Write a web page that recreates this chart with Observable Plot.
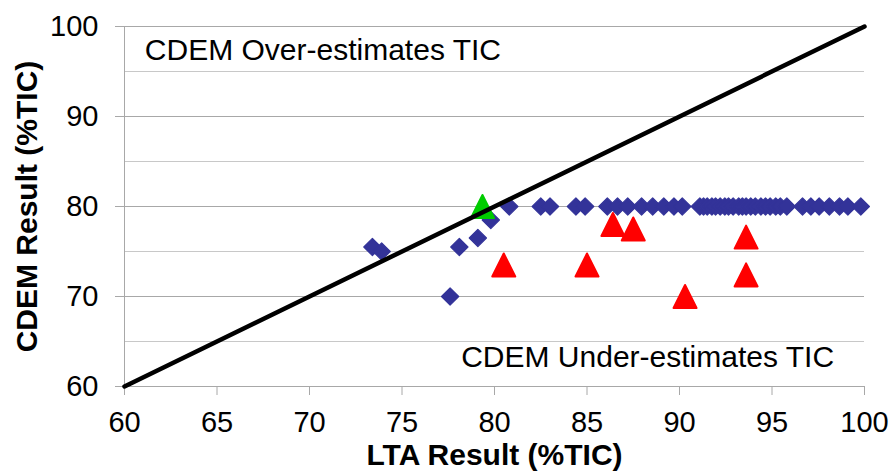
<!DOCTYPE html>
<html>
<head>
<meta charset="utf-8">
<script src="https://cdn.jsdelivr.net/npm/d3@7"></script>
<script src="https://cdn.jsdelivr.net/npm/@observablehq/plot@0.6"></script>
<style>
  html, body { margin: 0; padding: 0; background: #fff; }
  #chart svg { display: block; font-family: "Liberation Sans", Arial, sans-serif; }
</style>
</head>
<body>
<div id="chart"></div>
<script>
// Blue diamonds (all samples)
const blueLTA  = [73.4, 73.9, 77.6, 78.1, 79.1, 79.8, 80.8,
  82.5, 83.0, 84.4, 84.9,
  86.1, 86.65, 87.2,
  87.95, 88.55, 89.15, 89.7, 90.15,
  91.1, 91.3, 91.5, 91.75, 91.95, 92.2, 92.45, 92.65, 92.9, 93.2,
  93.4, 93.6, 93.85, 94.1, 94.4, 94.65, 94.9, 95.2, 95.45, 95.8,
  96.65, 97.1, 97.55, 98.1, 98.65, 99.1, 99.8];
const blueCDEM = [75.5, 75.0, 70.0, 75.5, 76.5, 78.5, 80,
  80, 80, 80, 80,
  80, 80, 80,
  80, 80, 80, 80, 80,
  80, 80, 80, 80, 80, 80, 80, 80, 80, 80,
  80, 80, 80, 80, 80, 80, 80, 80, 80, 80,
  80, 80, 80, 80, 80, 80, 80];
// Red triangles
const redLTA  = [80.5, 85.0, 86.4, 87.5, 90.3, 93.6, 93.6];
const redCDEM = [73.5, 73.5, 78.0, 77.5, 70.0, 76.6, 72.4];
// Green triangle
const greenLTA  = [79.35];
const greenCDEM = [80.0];
// 1:1 line
const diagonal = [60, 100];
// Axis ticks
const xTicks = [60, 65, 70, 75, 80, 85, 90, 95, 100];
const yTicks = [60, 70, 80, 90, 100];
const yMajorGrid = [70, 80, 90, 100];
const yMinorGrid = [65, 75, 85, 95];
// Annotations
const notes = [
  {x: 61.1, y: 97.3, text: "CDEM Over-estimates TIC"},
  {x: 78.2, y: 63.2, text: "CDEM Under-estimates TIC"}
];

const toPts = (xs, ys) => xs.map((x, i) => ({x, y: ys[i]}));

const triangle = {
  draw(ctx, size) {
    const r = Math.sqrt(size / Math.PI);
    ctx.moveTo(0, -r);
    ctx.lineTo(r, r);
    ctx.lineTo(-r, r);
    ctx.closePath();
  }
};
const diamond = {
  draw(ctx, size) {
    const r = Math.sqrt(size / Math.PI);
    ctx.moveTo(0, -r);
    ctx.lineTo(r, 0);
    ctx.lineTo(0, r);
    ctx.lineTo(-r, 0);
    ctx.closePath();
  }
};

const chart = Plot.plot({
  width: 896,
  height: 472,
  marginLeft: 124,
  marginRight: 32,
  marginTop: 26,
  marginBottom: 86,
  style: {fontFamily: "Liberation Sans, Arial, sans-serif", background: "#fff"},
  x: {domain: [60, 100]},
  y: {domain: [60, 100]},
  marks: [
    Plot.ruleY(yMinorGrid, {stroke: "#c8c8c8", strokeWidth: 1}),
    Plot.ruleY(yMajorGrid, {stroke: "#a8a8a8", strokeWidth: 1}),
    Plot.ruleX([60], {stroke: "#a8a8a8", strokeWidth: 1}),
    Plot.ruleY([60], {stroke: "#a8a8a8", strokeWidth: 1}),
    Plot.axisY({ticks: yTicks, tickSize: 9, tickPadding: 17, fontSize: 29, stroke: "#a8a8a8", color: "#000", label: null}),
    Plot.axisX({ticks: xTicks, tickSize: 9, tickPadding: 16, fontSize: 29, stroke: "#a8a8a8", color: "#000", label: null}),
    Plot.dot(toPts(blueLTA, blueCDEM), {x: "x", y: "y", symbol: diamond, r: 8.6, fill: "#333399", stroke: "#333399", strokeWidth: 1.2, strokeLinejoin: "round"}),
    Plot.dot(toPts(redLTA, redCDEM), {x: "x", y: "y", symbol: triangle, r: 11.5, fill: "#ff0000", stroke: "#ff0000", strokeWidth: 2, strokeLinejoin: "round"}),
    Plot.dot(toPts(greenLTA, greenCDEM), {x: "x", y: "y", symbol: triangle, r: 11.5, fill: "#00cc00", stroke: "#00cc00", strokeWidth: 2, strokeLinejoin: "round"}),
    Plot.line(toPts(diagonal, diagonal), {x: "x", y: "y", stroke: "#000", strokeWidth: 4.5}),
    Plot.text(notes, {x: "x", y: "y", text: "text", textAnchor: "start", fontSize: 30, fill: "#000"}),
    Plot.text(["LTA Result (%TIC)"], {frameAnchor: "bottom", lineAnchor: "top", dy: 57, fontSize: 30, fontWeight: "bold", fill: "#000"}),
    Plot.text(["CDEM Result (%TIC)"], {frameAnchor: "left", textAnchor: "middle", rotate: -90, dx: -97, fontSize: 30, fontWeight: "bold", fill: "#000"})
  ]
});
document.getElementById("chart").appendChild(chart);
</script>
</body>
</html>
